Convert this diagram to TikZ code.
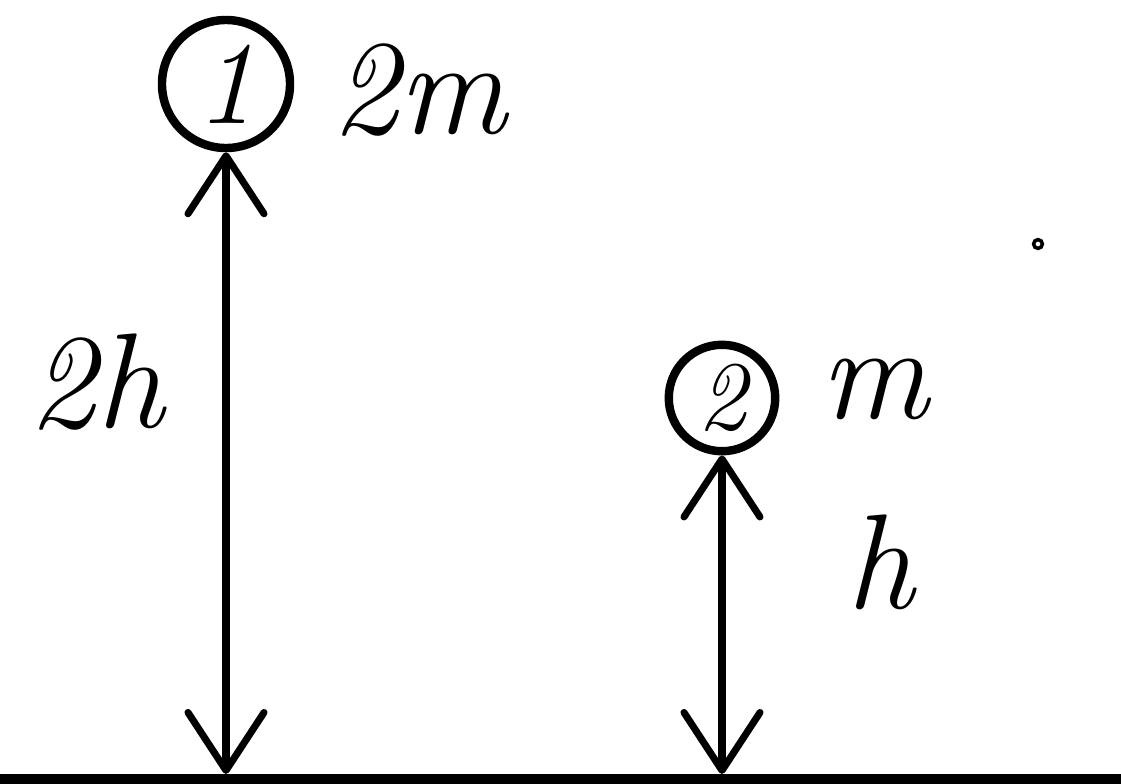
\documentclass[tikz,border=0pt]{standalone}
\usetikzlibrary{arrows.meta,positioning}
\begin{document}
\begin{tikzpicture}[x=.025cm,y=-.025cm,>={Straight Barb[length=1.45cm,width=1.9cm,round]},
  ball/.style={circle,draw,line width=6pt,inner sep=0pt,font=\fontsize{84}{90}\selectfont\itshape},
  lbl/.style={font=\fontsize{96}{100}\selectfont\itshape},
  rod/.style={line width=5pt,<->}]
\useasboundingbox (0,0) rectangle (1121,784);
\draw[line width=7pt] (0,779) -- (1121,779);
% the two balls
\node[ball,minimum size=3.2cm] (ball1) at (226,84) {1};
\node[ball,minimum size=2.66cm,font=\fontsize{70}{76}\selectfont\itshape] (ball2) at (722,398) {2};
\node[lbl,right=0.8cm of ball1,yshift=-4pt] (mass1) {2m};
\node[lbl,right=0.9cm of ball2,yshift=6pt] (mass2) {m};
% heights
\coordinate (foot1) at (226,774);
\coordinate (foot2) at (722,774);
\draw[rod] (ball1.south) -- (foot1);
\draw[rod] (ball2.south) -- (foot2);
\node[lbl] (height1) at (96,382) {2h};
\node[lbl] (height2) at (880,562) {h};
\node[circle,draw,line width=2.5pt,minimum size=0.22cm,inner sep=0pt] (speck) at (1038,244) {};
\end{tikzpicture}
\end{document}
